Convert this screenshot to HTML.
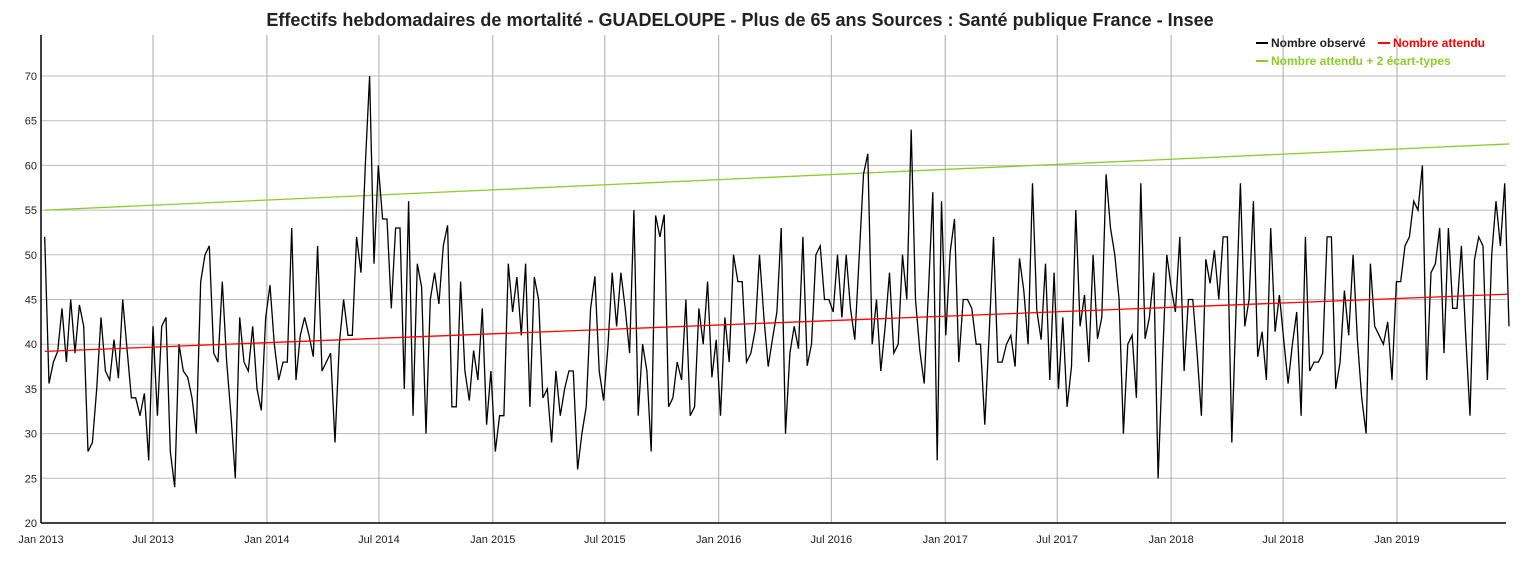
<!DOCTYPE html>
<html><head><meta charset="utf-8"><style>
body{margin:0;background:#fff;font-family:"Liberation Sans",sans-serif}
svg{display:block}
</style></head><body>
<svg id="chart" width="1528" height="577" xmlns="http://www.w3.org/2000/svg">
<text x="740" y="26" text-anchor="middle" font-family="Liberation Sans, sans-serif" font-weight="bold" font-size="18" fill="#222">Effectifs hebdomadaires de mortalité - GUADELOUPE - Plus de 65 ans Sources : Santé publique France - Insee</text>
<g id="grid"></g>
<g id="series"></g>
<g id="axes"></g>
<g font-family="Liberation Sans, sans-serif" font-weight="bold" font-size="12">
 <g><line x1="1256" y1="43" x2="1268" y2="43" stroke="#000" stroke-width="2"/><text x="1271" y="47" fill="#222">Nombre observé</text></g>
 <g><line x1="1378" y1="43" x2="1390" y2="43" stroke="#f00" stroke-width="2"/><text x="1393" y="47" fill="#f00">Nombre attendu</text></g>
 <g><line x1="1256" y1="61" x2="1268" y2="61" stroke="#8ccc2a" stroke-width="2"/><text x="1271" y="65" fill="#8ccc2a">Nombre attendu + 2 écart-types</text></g>
</g>
</svg>
<script>
const observed = [52,35.6,38,39.2,44,38,45,39,44.4,42,28,29,35,43,37,36,40.5,36.2,45,39.5,34,34,32,34.5,27,42,32,42,43,28,24,40,37,36.3,
34,30,47,50,51,39,38,47,38,32,25,43,38,37,42,35,32.6,43,46.6,40,36,38,38,53,36,41,43,41,38.6,51,37,38,39,29,
40,45,41,41,52,48,60,70,49,60,54,54,44,53,53,35,56,32,49,46.4,30,45,48,44.5,51,53.3,33,33,47,37,33.7,39.3,36,44,
31,37,28,32,32,49,43.6,47.5,41,49,33,47.5,45,34,35,29,37,32,35,37,37,26,30,33,44,47.6,37,33.7,39.7,48,42,48,44,39,
55,32,40,37,28,54.4,52,54.5,33,34,38,36,45,32,33,44,40,47,36.3,40.5,32,43,38,50,47,47,38,39,41.6,50,43,37.5,40.6,43.6,
53,30,39,42,39.5,52,37.6,40,50,51,45,45,43.6,50,43,50,44,40.5,49.8,59,61.3,40,45,37,42,48,39,40,50,45,64,45,39.3,35.6,
46,57,27,56,41,50.3,54,38,45,45,44,40,40,31,41,52,38,38,40,41,37.5,49.6,46,40,58,43.8,40.5,49,36,48,35,43,33,37.5,
55,42,45.5,38,50,40.6,43,59,53,50,45,30,40,41,34,58,40.6,43,48,25,38,50,46.4,43.6,52,37,45,45,39,32,49.5,46.8,50.5,45,
52,52,29,44,58,42,45,56,38.6,41.4,36,53,41.4,45.5,40.5,35.6,40,43.6,32,52,37,38,38,39,52,52,35,38,46,41,50,40.5,34,30,
49,42,41,40,42.5,36,47,47,51,52,56,55,60,36,48,49,53,39,53,44,44,51,41,32,49.4,52,51,36,50,56,51,58,42];
const firstWeek = "2013-01-07";
const expectedEnds = [39.2, 45.6];
const upperEnds = [55.0, 62.4];
const yTicks = [20,25,30,35,40,45,50,55,60,65,70];
const xTickLabels = ["Jan 2013","Jul 2013","Jan 2014","Jul 2014","Jan 2015","Jul 2015","Jan 2016","Jul 2016","Jan 2017","Jul 2017","Jan 2018","Jul 2018","Jan 2019"];
const xTickDates = ["2013-01-01","2013-07-01","2014-01-01","2014-07-01","2015-01-01","2015-07-01","2016-01-01","2016-07-01","2017-01-01","2017-07-01","2018-01-01","2018-07-01","2019-01-01"];

const NS="http://www.w3.org/2000/svg";
const L=41,R=1506,T=35,B=523;
const d0=Date.UTC(2013,0,1), d1=Date.UTC(2019,0,1);
function xs(dateMs){return L+(dateMs-d0)/(d1-d0)*(1397-L);}
function ys(v){return B-(v-20)/(70-20)*(B-76);}
function mk(tag,attrs,parent){const e=document.createElementNS(NS,tag);for(const k in attrs)e.setAttribute(k,attrs[k]);parent.appendChild(e);return e;}
const grid=document.getElementById('grid'),axes=document.getElementById('axes'),series=document.getElementById('series');
const fw=Date.parse(firstWeek);
const wk=7*86400000;
yTicks.forEach(v=>{
  const y=ys(v);
  const gl=mk('line',{x1:L,x2:R,y1:y,y2:y,stroke:'#bbb','stroke-width':1},grid);
  
  
  const t=mk('text',{x:L-4,y:y+4,'text-anchor':'end','font-size':11,fill:'#222','font-family':'Liberation Sans, sans-serif'},axes);
  t.textContent=v;
  
  
});
xTickDates.forEach((d,i)=>{
  const x=xs(Date.parse(d));
  const gl=mk('line',{x1:x,x2:x,y1:T,y2:B,stroke:'#aaa','stroke-width':1},grid);
  
  
  const t=mk('text',{x:x,y:543,'text-anchor':'middle','font-size':11,fill:'#222','font-family':'Liberation Sans, sans-serif'},axes);
  t.textContent=xTickLabels[i];
  
  
});
const ax1=mk('line',{x1:L,x2:L,y1:T,y2:B,stroke:'#000','stroke-width':1.5},axes);


const ax2=mk('line',{x1:L,x2:R,y1:B,y2:B,stroke:'#000','stroke-width':1.5},axes);


const xFirst=xs(fw), xLast=xs(fw+(observed.length-1)*wk);
const up=mk('line',{x1:xFirst,x2:xLast,y1:ys(upperEnds[0]),y2:ys(upperEnds[1]),stroke:'#8ccc2a','stroke-width':1.3},series);


const pts=observed.map((v,i)=>xs(fw+i*wk).toFixed(1)+','+ys(v).toFixed(1)).join(' ');
const obs=mk('polyline',{points:pts,fill:'none',stroke:'#000','stroke-width':1.3,'stroke-linejoin':'miter'},series);


const ex=mk('line',{x1:xFirst,x2:xLast,y1:ys(expectedEnds[0]),y2:ys(expectedEnds[1]),stroke:'#f00','stroke-width':1.3},series);


</script>
</body></html>
